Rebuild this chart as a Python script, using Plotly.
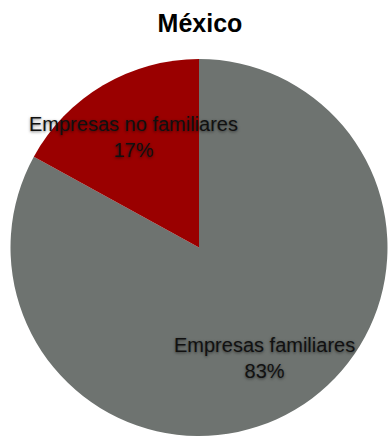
import math
import plotly.graph_objects as go

title = "México"
labels = ["Empresas familiares", "Empresas no familiares"]
values = [83, 17]
colors = ["#6e7370", "#9a0000"]

W, H = 388, 436
dom_x = [10 / W, 1.0]
dom_y = [0.0, 1 - 59 / H]

fig = go.Figure(go.Pie(
    labels=labels,
    values=values,
    sort=False,
    direction="clockwise",
    rotation=0,
    marker=dict(colors=colors, line=dict(width=0)),
    textinfo="none",
    hoverinfo="label+percent",
    domain=dict(x=dom_x, y=dom_y),
    showlegend=False,
))

# label annotations at slice mid-angles (slices run clockwise from 12 o'clock)
cx = (dom_x[0] + dom_x[1]) / 2 * W
cy = (1 - (dom_y[0] + dom_y[1]) / 2) * H
r = min((dom_x[1] - dom_x[0]) * W, (dom_y[1] - dom_y[0]) * H) / 2
total = sum(values)
start = 0.0
for lab, v in zip(labels, values):
    frac = v / total
    mid = (start + frac / 2) * 2 * math.pi
    start += frac
    d = 0.68 * r
    px = cx + d * math.sin(mid)
    py = cy - d * math.cos(mid)
    fig.add_annotation(
        x=px / W, y=1 - py / H, xref="paper", yref="paper",
        text=f"{lab}<br>{round(frac * 100)}%",
        showarrow=False, xanchor="center", yanchor="middle",
        font=dict(family="Liberation Sans, Arial, sans-serif", size=20, color="#111111",
                  shadow="0px 1px 3px rgba(0,0,0,0.55)"),
        align="center",
    )

fig.update_layout(
    width=W, height=H,
    margin=dict(l=0, r=0, t=0, b=0),
    paper_bgcolor="white",
    plot_bgcolor="white",
    title=dict(text=f"<b>{title}</b>", x=200 / W, y=1 - 23 / H, xanchor="center", yanchor="middle",
               font=dict(family="Liberation Sans, Arial, sans-serif", size=25, color="black")),
)

fig.write_html("out.html", config={"displayModeBar": False},
               post_script="document.body.style.margin='0';document.body.style.overflow='hidden';")
